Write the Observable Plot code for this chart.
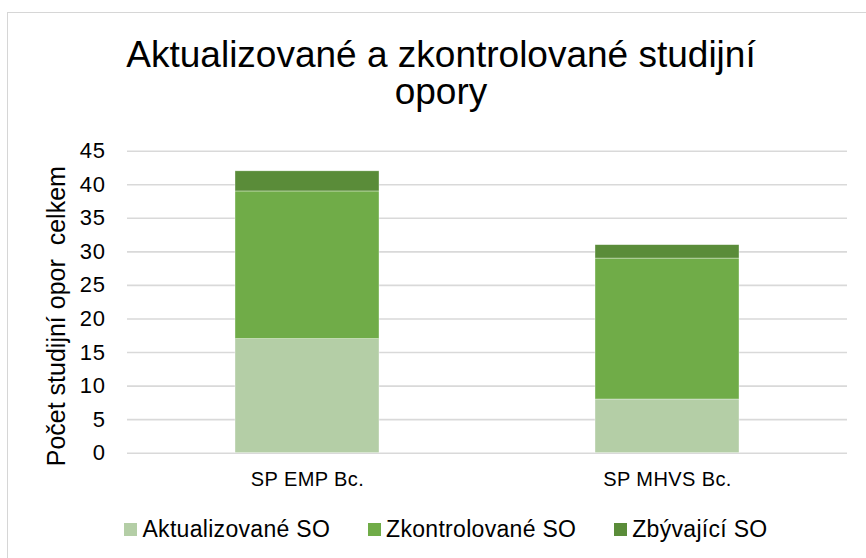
<!DOCTYPE html>
<html>
<head>
<meta charset="utf-8">
<script src="https://cdn.jsdelivr.net/npm/d3@7"></script>
<script src="https://cdn.jsdelivr.net/npm/@observablehq/plot@0.6"></script>
<style>
  html, body { margin: 0; padding: 0; background: #fff; width: 866px; height: 558px; overflow: hidden; }
  body { position: relative; font-family: "Liberation Sans", Arial, sans-serif; }
  #frame { position: absolute; left: 7px; top: 12px; width: 900px; height: 600px; border: 1px solid #d6d6d6; box-sizing: border-box; }
  #title { position: absolute; left: 0; top: 36px; width: 882px; text-align: center; font-size: 37px; line-height: 37px; color: #000; }
  #chart { position: absolute; left: 0; top: 130px; }
  #chart svg text { white-space: pre; fill: #000; }
  #chart g[aria-label^="y-axis"] text { font-size: 22px; letter-spacing: 0.6px; }
  #chart g[aria-label^="x-axis"] text { font-size: 20px; letter-spacing: 0.4px; }
  #legend { position: absolute; left: 0; top: 516px; width: 892px; }
  #legend > div { display: flex !important; justify-content: center; align-items: center; min-height: 0 !important; margin: 0 !important; font-size: 23px !important; font-family: "Liberation Sans", Arial, sans-serif !important; letter-spacing: 0.3px; color: #000; }
  #legend span { margin-right: 38px !important; display: inline-flex; align-items: center; }
  #legend span:last-of-type { margin-right: 0 !important; }
  #legend span > svg { margin-right: 5px !important; }
</style>
</head>
<body>
<div id="frame"></div>
<div id="title">Aktualizované a zkontrolované studijní<br>opory</div>
<div id="chart"></div>
<div id="legend"></div>
<script>
const categories = ["SP EMP Bc.", "SP MHVS Bc."];
const series = ["Aktualizované SO", "Zkontrolované SO", "Zbývající SO"];
const aktualizovane = [17, 8];
const zkontrolovane = [22, 21];
const zbyvajici = [3, 2];
const colors = ["#b4cea6", "#70ac48", "#5a8c39"];
const yTicks = [0, 5, 10, 15, 20, 25, 30, 35, 40, 45];
const yLabel = "Počet studijní opor  celkem";

const seriesValues = [aktualizovane, zkontrolovane, zbyvajici];
const data = [];
categories.forEach((c, i) => {
  series.forEach((s, j) => data.push({category: c, series: s, value: seriesValues[j][i]}));
});

const plot = Plot.plot({
  width: 866,
  height: 380,
  marginTop: 20.7,
  marginBottom: 57.3,
  marginLeft: 127,
  marginRight: 19,
  style: {fontFamily: "Liberation Sans, Arial, sans-serif", fontSize: "20px", background: "transparent", overflow: "visible"},
  x: {domain: categories, paddingInner: 0.6, paddingOuter: 0.3, tickSize: 0, tickPadding: 19, label: null},
  y: {domain: [0, 45], ticks: yTicks, tickSize: 0, tickPadding: 22, label: null},
  color: {domain: series, range: colors},
  marks: [
    Plot.ruleY(yTicks, {stroke: "#d9d9d9", strokeWidth: 1.6}),
    Plot.barY(data, {x: "category", y: "value", fill: "series", stroke: "#ffffff", strokeWidth: 0.6, strokeOpacity: 0.6}),
    Plot.text([yLabel], {text: d => d, frameAnchor: "left", rotate: -90, dx: -71, dy: 14, fontSize: 25, textAnchor: "middle", lineAnchor: "middle", fill: "#000", style: "letter-spacing:2px"})
  ]
});
document.getElementById("chart").appendChild(plot);

const legend = plot.legend("color", {swatchSize: 13, swatchWidth: 13, swatchHeight: 13});
document.getElementById("legend").appendChild(legend);
</script>
</body>
</html>
